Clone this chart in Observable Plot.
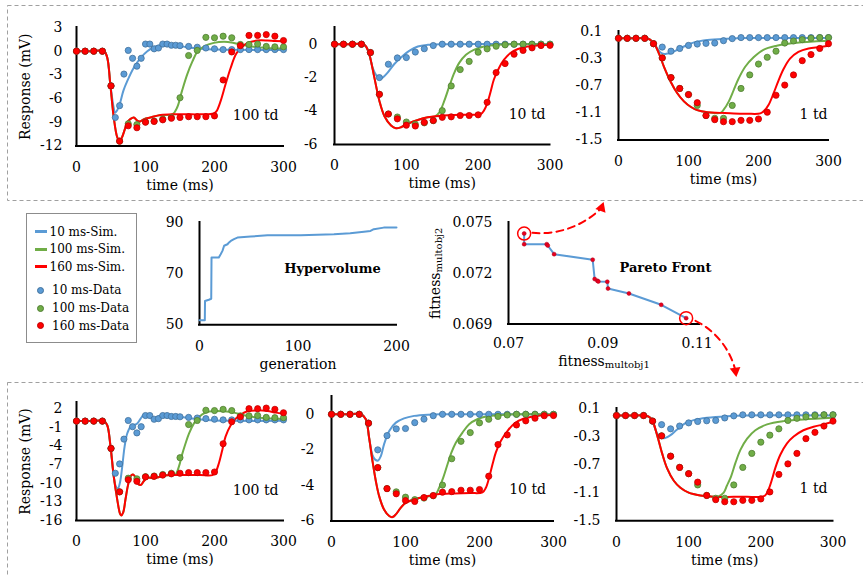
<!DOCTYPE html>
<html><head><meta charset="utf-8">
<script src="https://cdn.jsdelivr.net/npm/d3@7"></script>
<script src="https://cdn.jsdelivr.net/npm/@observablehq/plot@0.6"></script>
<style>
body{margin:0;background:#fff;}
#root{position:relative;width:863px;height:575px;overflow:hidden;font-family:"DejaVu Serif",serif;}
</style></head>
<body><div id="root"></div>
<script>
// ---------------- DATA ----------------
const timeTicks = [0, 100, 200, 300];
const tData = [0,12.5,25,37.5,50,62.5,75,87.5,100,112.5,125,137.5,150,162.5,175,187.5,200,212.5,225,237.5,250,262.5,275,287.5,300];
const tBlue100 = [0,12.5,25,37.5,50,56.25,62.5,68.75,75,81.25,87.5,93.75,100,106.25,112.5,118.75,125,131.25,137.5,143.75,150,162.5,175,187.5,200,212.5,225,237.5,250,262.5,275,287.5,300];

// measured data (same in both rows)
const blue100Data  = [0,0,0,0,-4.4,-8.4,-6.9,-2.9,0.1,-0.9,-1.9,-0.9,0.9,0.9,0.3,0.4,0.9,0.9,0.75,0.75,0.7,0.6,0.5,0.4,0.3,0.2,0.2,0.2,0.2,0.2,0.2,0.2,0.2];
const green100Data = [0,0,0,0,-4.4,-11.4,-9.2,-9.3,-8.95,-8.85,-8.6,-8.4,-5.9,-0.55,0.1,1.75,1.7,1.9,1.7,0.85,0.85,0.9,0.6,0.55,0.55];
const red100Data   = [0,0,0,0,-4.4,-11.4,-9.45,-9.7,-9.0,-8.9,-8.7,-8.5,-8.4,-8.3,-8.3,-8.3,-8.2,-3.65,-0.1,0.7,2.0,2.0,2.1,1.9,1.35];
const blue10Data   = [0,0,0,0,-0.5,-2.0,-1.2,-0.82,-0.8,-0.47,-0.27,-0.08,0,0,0,0,0,0,0,0,0,0,0,0,0];
const green10Data  = [0,0,0,0,-0.5,-3.0,-4.18,-4.36,-4.66,-4.8,-4.71,-4.58,-3.98,-2.5,-1.52,-1.03,-0.48,-0.28,-0.12,-0.04,0,0,0,0,0];
const red10Data    = [0,0,0,0,-0.5,-3.0,-4.18,-4.47,-4.85,-4.9,-4.68,-4.57,-4.38,-4.35,-4.27,-4.27,-4.23,-3.48,-1.7,-1.16,-0.6,-0.37,-0.22,-0.08,-0.07];
const blue1Data    = [0,0,0,0,-0.08,-0.13,-0.19,-0.15,-0.105,-0.085,-0.075,-0.07,-0.035,-0.005,0.01,0.01,0.01,0.01,0.01,0.01,0.01,0.01,0.01,0.01,0.01];
const green1Data   = [0,0,0,0,-0.08,-0.29,-0.58,-0.74,-0.83,-0.99,-1.14,-1.18,-1.18,-0.99,-0.74,-0.54,-0.38,-0.28,-0.19,-0.07,-0.04,-0.02,0,0.01,0.01];
const red1Data     = [0,0,0,0,-0.08,-0.29,-0.58,-0.74,-0.83,-0.95,-1.14,-1.2,-1.23,-1.23,-1.21,-1.21,-1.19,-1.09,-0.84,-0.69,-0.54,-0.33,-0.24,-0.15,-0.08];

// simulations, top row (first Pareto extreme)
const blueSim100a  = [[0,0],[20,0],[40,0],[44.5,-0.8],[49,-4.2],[54,-7.2],[56,-7.8],[59.5,-7.4],[63,-6.6],[68,-5.0],[73.5,-3.8],[83,-2.1],[93,-0.84],[102.6,0],[112,0.5],[122,0.75],[141,0.75],[160,0.5],[180,0.3],[204,0.2],[300,0.15]];
const greenSim100a = [[0,0],[20,0],[40,0],[44.5,-0.8],[49,-4.2],[54,-8.4],[59,-10.9],[62.4,-11.4],[66,-10.9],[70,-9.9],[73.5,-9.0],[78,-8.6],[83,-8.4],[88,-8.8],[92,-8.9],[98,-8.6],[107,-8.4],[122,-8.1],[139,-8.0],[146,-7.1],[153,-5.0],[160.6,-2.9],[168,-1.3],[175,-0.1],[185,0.6],[199,1.05],[214,1.2],[228,1.05],[243,0.75],[257,0.55],[277,0.4],[300,0.35]];
const redSim100a   = [[0,0],[20,0],[40,0],[44.5,-0.8],[49,-4.2],[54,-8.4],[59,-10.9],[62.4,-11.4],[66,-10.9],[70,-9.9],[73.5,-9.0],[78,-8.6],[83,-8.4],[88,-8.8],[92,-8.9],[98,-8.6],[107,-8.4],[122,-8.1],[141,-8.0],[160,-8.0],[180,-8.0],[199,-7.9],[203,-7.6],[209,-6.3],[216,-4.2],[223.5,-2.1],[231,-0.4],[238,0.4],[248,1.05],[262,1.35],[277,1.35],[288,1.28],[300,1.26]];
const blueSim10a   = [[0,0],[20,0],[40,0],[44,-0.14],[48.6,-0.63],[53,-1.4],[58,-1.85],[63,-2.05],[67,-2.0],[74,-1.7],[83,-1.2],[92.6,-0.8],[104,-0.4],[116,-0.14],[130,-0.04],[150,0],[300,0]];
const greenSim10a  = [[0,0],[20,0],[40,0],[44,-0.14],[48.6,-0.63],[55.5,-2.0],[62.5,-3.4],[69.4,-4.3],[78.7,-4.87],[85.6,-5.03],[92.6,-4.97],[101.8,-4.77],[116,-4.54],[130,-4.38],[140,-4.33],[146,-4.08],[152.8,-3.4],[160,-2.5],[166.7,-1.72],[173.6,-1.12],[183,-0.63],[194,-0.34],[208,-0.14],[227,-0.04],[250,0],[300,0]];
const redSim10a    = [[0,0],[20,0],[40,0],[44,-0.14],[48.6,-0.63],[55.5,-2.0],[62.5,-3.4],[69.4,-4.3],[78.7,-4.87],[85.6,-5.03],[92.6,-4.97],[101.8,-4.77],[116,-4.54],[130,-4.38],[148,-4.28],[166.7,-4.24],[185,-4.22],[203.7,-4.18],[208,-3.98],[213,-3.5],[217.6,-2.8],[222,-2.1],[229,-1.42],[236,-0.93],[245,-0.53],[254.6,-0.3],[268.5,-0.14],[282,-0.08],[300,-0.04]];
const blueSim1a    = [[0,0],[20,0],[40,0],[45,-0.02],[51,-0.08],[55.5,-0.15],[60,-0.21],[65,-0.23],[70,-0.225],[74.5,-0.22],[84,-0.17],[96,-0.11],[108,-0.06],[127,-0.025],[155,-0.007],[184,0.003],[300,0.005]];
const greenSim1a   = [[0,0],[20,0],[40,0],[45,-0.02],[51,-0.08],[58,-0.23],[65,-0.42],[74.5,-0.64],[84,-0.81],[93.5,-0.93],[103,-1.01],[112.5,-1.06],[127,-1.09],[145.7,-1.1],[150.5,-1.05],[157.6,-0.93],[164.7,-0.76],[171.8,-0.59],[181,-0.42],[193,-0.28],[207,-0.17],[226,-0.11],[250,-0.07],[278.6,-0.046],[300,-0.036]];
const redSim1a     = [[0,0],[20,0],[40,0],[45,-0.02],[51,-0.08],[58,-0.23],[65,-0.42],[74.5,-0.64],[84,-0.81],[93.5,-0.93],[103,-1.01],[112.5,-1.06],[127,-1.09],[145.7,-1.1],[164.7,-1.11],[183.7,-1.113],[202.6,-1.108],[208,-1.07],[214.5,-0.98],[221.6,-0.81],[228.7,-0.62],[236,-0.45],[245,-0.3],[257,-0.2],[271.5,-0.15],[288,-0.13],[300,-0.11]];

// simulations, bottom row (second Pareto extreme)
const blueSim100b  = [[0,0],[20,0],[40,0],[44.5,-0.65],[49.3,-4.1],[54,-8.9],[56.6,-10.4],[60,-10.85],[63,-9.9],[66.3,-7.3],[69.7,-4.1],[73.5,-2.0],[78.4,-0.9],[83,-0.65],[88,-0.4],[93,0.4],[97.7,1.05],[102.6,1.05],[107.4,0.67],[112,0.4],[117,0.67],[122,0.94],[131.6,0.94],[151,0.67],[170,0.4],[194.5,0.15],[228,0.04],[300,0.04]];
const greenSim100b = [[0,0],[20,0],[40,0],[44.5,-0.65],[49.3,-4.1],[54,-8.9],[59,-12.6],[63,-14.9],[64.8,-15.2],[67.7,-14.7],[71,-12.6],[74.5,-10.4],[78.4,-8.85],[82,-8.6],[85.6,-9.1],[89,-10.05],[93,-10.3],[97.7,-9.65],[102.6,-9.1],[110,-9.2],[117,-9.1],[126.7,-8.75],[141,-8.7],[143.7,-8.6],[148.5,-7.3],[153,-5.4],[158,-3.6],[163,-2.0],[170,-0.4],[177.5,0.67],[187,1.37],[199,1.63],[214,1.58],[228,1.37],[243,0.94],[262,0.57],[281.6,0.41],[300,0.36]];
const redSim100b   = [[0,0],[20,0],[40,0],[44.5,-0.65],[49.3,-4.1],[54,-8.9],[59,-12.6],[63,-14.9],[64.8,-15.2],[67.7,-14.7],[71,-12.6],[74.5,-10.4],[78.4,-8.85],[82,-8.6],[85.6,-9.1],[89,-10.05],[93,-10.3],[97.7,-9.65],[102.6,-9.1],[110,-9.2],[117,-9.1],[126.7,-8.75],[141,-8.7],[160.6,-8.7],[180,-8.7],[197,-8.7],[201.7,-8.2],[206.6,-6.7],[211.4,-4.6],[216,-2.5],[223.5,-0.65],[230.8,0.4],[238,1.05],[247.7,1.58],[262,1.73],[276.7,1.63],[288.8,1.37],[300,1.2]];
const blueSim10b   = [[0,0],[20,0],[40,0],[46.4,-0.28],[50.8,-1.31],[55.4,-2.3],[59,-2.55],[63,-2.6],[66.7,-2.35],[71,-1.69],[78,-0.94],[87,-0.47],[98,-0.23],[111.7,-0.09],[130,-0.02],[150,0],[300,0]];
const greenSim10b  = [[0,0],[20,0],[40,0],[46.4,-0.28],[50.8,-1.31],[55.4,-2.63],[59.9,-3.75],[64.4,-4.6],[71,-5.35],[78,-5.72],[82.4,-5.78],[86.9,-5.63],[93.7,-5.25],[100.5,-4.97],[111.7,-4.78],[125,-4.65],[140,-4.52],[145.5,-4.13],[151,-3.56],[156.8,-2.81],[162,-2.16],[168,-1.6],[177,-1.03],[186,-0.56],[197,-0.28],[210.8,-0.11],[228.8,-0.04],[250,0],[300,0]];
const redSim10b    = [[0,0],[20,0],[40,0],[46.4,-0.28],[50.8,-1.31],[55.4,-2.63],[59.9,-3.75],[64.4,-4.6],[71,-5.35],[78,-5.72],[82.4,-5.78],[86.9,-5.63],[93.7,-5.25],[100.5,-4.97],[111.7,-4.78],[125,-4.65],[143,-4.5],[165.8,-4.45],[188,-4.43],[204,-4.39],[208.6,-4.13],[213,-3.56],[217.6,-2.81],[222,-2.16],[228.8,-1.5],[237.8,-0.94],[246.8,-0.53],[260,-0.24],[278,-0.09],[300,-0.04]];
const blueSim1b    = [[0,0],[20,0],[40,0],[45,-0.02],[49.4,-0.066],[56,-0.25],[61,-0.31],[65.5,-0.325],[70,-0.31],[74.8,-0.28],[84,-0.2],[95.5,-0.11],[107,-0.066],[125.5,-0.033],[153,-0.01],[181,0],[300,0]];
const greenSim1b   = [[0,0],[20,0],[40,0],[45,-0.02],[49.4,-0.066],[56.3,-0.28],[63.2,-0.54],[70,-0.75],[79.4,-0.93],[88.6,-1.03],[100,-1.1],[116,-1.14],[134.7,-1.16],[140,-1.16],[148.6,-1.1],[153,-1.0],[158.7,-0.87],[164.7,-0.68],[171.7,-0.49],[181,-0.33],[192.4,-0.21],[208.6,-0.127],[231.7,-0.08],[259,-0.056],[300,-0.033]];
const redSim1b     = [[0,0],[20,0],[40,0],[45,-0.02],[49.4,-0.066],[56.3,-0.28],[63.2,-0.54],[70,-0.75],[79.4,-0.93],[88.6,-1.03],[100,-1.1],[116,-1.14],[134.7,-1.16],[162.4,-1.16],[181,-1.16],[199,-1.16],[206,-1.14],[210.9,-1.05],[215.5,-0.91],[220,-0.75],[227,-0.56],[236,-0.4],[245.5,-0.3],[259,-0.21],[273,-0.16],[287,-0.127],[300,-0.09]];

// hypervolume vs generation
const hvGen = [0,5.4,5.6,9.5,11.9,12.2,19.6,21.5,23.3,25,28.4,30,31.8,35,38.5,52,69,102.7,136.5,153,167,173.6,177,187,200];
const hvVal = [51.8,51.8,59.3,59.8,60.2,76.3,76.3,77.6,78.9,80.9,81.5,82.2,82.8,83.5,84.1,84.5,85.0,85.0,85.4,85.8,86.4,86.7,87.4,88.0,88.0];

// Pareto front
const paretoF1 = [0.07332,0.07332,0.07811,0.07832,0.07967,0.08785,0.08827,0.08884,0.08905,0.09095,0.0911,0.09554,0.10238,0.10767];
const paretoF2 = [0.07435,0.07372,0.07372,0.07364,0.07313,0.0728,0.07166,0.07156,0.07152,0.0715,0.0711,0.07081,0.07014,0.06935];

// annotation arrows (from the two selected Pareto points towards the panel rows)
const arrowFrom = [[0.07509,0.07439],[0.10965,0.069195]];
const arrowTo   = [[0.08972,0.07586],[0.11813,0.06624]];
const arrowBend = [-25, 25];
const arrowHeadRotate = [20, 172];

const legendLabels = ["10 ms-Sim.","100 ms-Sim.","160 ms-Sim.","10 ms-Data","100 ms-Data","160 ms-Data"];

// ---------------- STYLE ----------------
const FONT = "'DejaVu Serif', serif";
const LINE = {blue:"#5B9BD5", green:"#70AD47", red:"#FF0000"};
const EDGE = {blue:"#41719C", green:"#507E32", red:"#C00000"};
const root = document.getElementById("root");
const NS = "http://www.w3.org/2000/svg";
const baseStyle = {background:"transparent", overflow:"visible", fontFamily:FONT, fontSize:"14px", color:"#000"};
const fmt = d => String(d);

function place(node, left, top, w, h) {
  const div = document.createElement("div");
  div.style.cssText = `position:absolute;left:${left}px;top:${top}px;width:${w}px;height:${h}px;`;
  div.append(node);
  root.append(div);
}
const toPts = pairs => pairs.map(([t, v]) => ({t, v}));
const zipPts = (ts, vs) => vs.map((v, i) => ({t: ts[i], v}));

// dashed group boxes
{
  const s = document.createElementNS(NS, "svg");
  s.setAttribute("width", 863); s.setAttribute("height", 575);
  s.style.cssText = "position:absolute;left:0;top:0;";
  for (const [y, h] of [[5.5, 195], [382.5, 210]]) {
    const r = document.createElementNS(NS, "rect");
    r.setAttribute("x", 7.5); r.setAttribute("y", y);
    r.setAttribute("width", 880); r.setAttribute("height", h);
    r.setAttribute("fill", "none"); r.setAttribute("stroke", "#A0A0A0");
    r.setAttribute("stroke-width", 1); r.setAttribute("stroke-dasharray", "4,3");
    s.append(r);
  }
  root.append(s);
}

// ---------------- RESPONSE PANELS ----------------
const panels = [
  {x0:76, x1:283, yTop:26.6, yBot:145, yDomain:[-12,3], yTicks:[-12,-9,-6,-3,0,3], pad:14, td:"100 td", tdDx:-5, tdDy:-26, yLabelDx:-50.5,
   sims:[blueSim100a, greenSim100a, redSim100a], data:[[tBlue100, blue100Data],[tData, green100Data],[tData, red100Data]]},
  {x0:333.5, x1:549, yTop:26.6, yBot:143.5, yDomain:[-6,1], yTicks:[-6,-4,-2,0], pad:17, td:"10 td", tdDx:-4.5, tdDy:-25.5,
   sims:[blueSim10a, greenSim10a, redSim10a], data:[[tData, blue10Data],[tData, green10Data],[tData, red10Data]]},
  {x0:618, x1:828, yTop:31, yBot:139.5, yDomain:[-1.5,0.1], yTicks:[-1.5,-1.1,-0.7,-0.3,0.1], pad:16, td:"1 td", tdDx:-1, tdDy:-21.5,
   sims:[blueSim1a, greenSim1a, redSim1a], data:[[tData, blue1Data],[tData, green1Data],[tData, red1Data]]},
  {x0:76, x1:283, yTop:402.1, yBot:520, yDomain:[-16,3], yTicks:[-16,-13,-10,-7,-4,-1,2], pad:14, td:"100 td", tdDx:-5, tdDy:-25, yLabelDx:-51,
   sims:[blueSim100b, greenSim100b, redSim100b], data:[[tBlue100, blue100Data],[tData, green100Data],[tData, red100Data]]},
  {x0:331, x1:553, yTop:395.5, yBot:520, yDomain:[-6,1], yTicks:[-6,-4,-2,0], pad:17, td:"10 td", tdDx:-7.5, tdDy:-27,
   sims:[blueSim10b, greenSim10b, redSim10b], data:[[tData, blue10Data],[tData, green10Data],[tData, red10Data]]},
  {x0:616, x1:832.5, yTop:408.3, yBot:520.5, yDomain:[-1.5,0.1], yTicks:[-1.5,-1.1,-0.7,-0.3,0.1], pad:16, td:"1 td", tdDx:-5.5, tdDy:-27.5,
   sims:[blueSim1b, greenSim1b, redSim1b], data:[[tData, blue1Data],[tData, green1Data],[tData, red1Data]]}
];

const series = ["blue", "green", "red"];
for (const g of panels) {
  const mL = 70, mR = 20, mT = 12, mB = 58;
  const w = mL + (g.x1 - g.x0) + mR, h = mT + (g.yBot - g.yTop) + mB;
  const marks = [
    Plot.ruleX([0], {stroke:"#000", strokeWidth:2, strokeLinecap:"square"}),
    Plot.ruleY([g.yDomain[0]], {stroke:"#000", strokeWidth:2, strokeLinecap:"square"})
  ];
  g.sims.forEach((s, i) => marks.push(Plot.line(toPts(s), {x:"t", y:"v", stroke:LINE[series[i]], strokeWidth:2, curve:"catmull-rom"})));
  g.data.forEach(([ts, vs], i) => marks.push(Plot.dot(zipPts(ts, vs), {x:"t", y:"v", r:3.1, fill:LINE[series[i]], stroke:EDGE[series[i]], strokeWidth:0.8})));
  marks.push(Plot.text([g.td], {frameAnchor:"bottom-right", textAnchor:"end", dx:g.tdDx, dy:g.tdDy, fontSize:14}));
  marks.push(Plot.text(["time (ms)"], {frameAnchor:"bottom", textAnchor:"middle", dy:44, fontSize:14}));
  if (g.yLabelDx !== undefined) marks.push(Plot.text(["Response (mV)"], {frameAnchor:"left", textAnchor:"middle", rotate:-90, dx:g.yLabelDx, fontSize:14}));
  const svg = Plot.plot({
    width:w, height:h, marginLeft:mL, marginRight:mR, marginTop:mT, marginBottom:mB, style:baseStyle,
    x:{domain:[0,300], ticks:timeTicks, tickSize:0, tickPadding:16, tickFormat:fmt, label:null},
    y:{domain:g.yDomain, ticks:g.yTicks, tickSize:0, tickPadding:g.pad, tickFormat:fmt, label:null},
    marks
  });
  place(svg, g.x0 - mL, g.yTop - mT, w, h);
}

// ---------------- HYPERVOLUME ----------------
{
  const x0 = 199, x1 = 396, yTop = 222, yBot = 324.3, mL = 60, mR = 20, mT = 10, mB = 58;
  const w = mL + (x1 - x0) + mR, h = mT + (yBot - yTop) + mB;
  const svg = Plot.plot({
    width:w, height:h, marginLeft:mL, marginRight:mR, marginTop:mT, marginBottom:mB, style:baseStyle,
    x:{domain:[0,200], ticks:[0,100,200], tickSize:0, tickPadding:16, tickFormat:fmt, label:null},
    y:{domain:[50,90], ticks:[50,70,90], tickSize:0, tickPadding:16, tickFormat:fmt, label:null},
    marks:[
      Plot.ruleX([0], {stroke:"#000", strokeWidth:2, strokeLinecap:"square"}),
      Plot.ruleY([50], {stroke:"#000", strokeWidth:2, strokeLinecap:"square"}),
      Plot.line(zipPts(hvGen, hvVal), {x:"t", y:"v", stroke:LINE.blue, strokeWidth:2}),
      Plot.text(["Hypervolume"], {frameAnchor:"middle", textAnchor:"middle", dx:34.5, dy:-5, fontSize:13, fontWeight:"bold"}),
      Plot.text(["generation"], {frameAnchor:"bottom", textAnchor:"middle", dy:44, fontSize:14})
    ]
  });
  place(svg, x0 - mL, yTop - mT, w, h);
}

// ---------------- PARETO FRONT ----------------
{
  const x0 = 508, x1 = 699, yTop = 221.7, yBot = 323.3, mL = 95, mR = 50, mT = 25, mB = 62;
  const w = mL + (x1 - x0) + mR, h = mT + (yBot - yTop) + mB;
  const pts = paretoF1.map((f1, i) => ({f1, f2: paretoF2[i]}));
  const ends = [pts[0], pts[pts.length - 1]];
  const arrows = arrowFrom.map((a, i) => ({x1:a[0], y1:a[1], x2:arrowTo[i][0], y2:arrowTo[i][1], rot:arrowHeadRotate[i]}));
  const svg = Plot.plot({
    width:w, height:h, marginLeft:mL, marginRight:mR, marginTop:mT, marginBottom:mB, style:baseStyle,
    x:{domain:[0.07,0.1105], ticks:[0.07,0.09,0.11], tickSize:0, tickPadding:14, tickFormat:fmt, label:null},
    y:{domain:[0.069,0.075], ticks:[0.069,0.072,0.075], tickSize:0, tickPadding:16, tickFormat:fmt, label:null},
    marks:[
      Plot.ruleX([0.07], {stroke:"#000", strokeWidth:2, strokeLinecap:"square"}),
      Plot.ruleY([0.069], {stroke:"#000", strokeWidth:2, strokeLinecap:"square"}),
      Plot.line(pts, {x:"f1", y:"f2", stroke:LINE.blue, strokeWidth:2}),
      Plot.dot(pts, {x:"f1", y:"f2", r:2, fill:"#E8001C", stroke:"#B00020", strokeWidth:0.5}),
      Plot.dot(ends, {x:"f1", y:"f2", r:6.5, fill:"none", stroke:LINE.red, strokeWidth:1.5}),
      Plot.arrow([arrows[0]], {x1:"x1", y1:"y1", x2:"x2", y2:"y2", bend:arrowBend[0], headLength:0, stroke:LINE.red, strokeWidth:2, strokeDasharray:"7,5"}),
      Plot.arrow([arrows[1]], {x1:"x1", y1:"y1", x2:"x2", y2:"y2", bend:arrowBend[1], headLength:0, stroke:LINE.red, strokeWidth:2, strokeDasharray:"7,5"}),
      Plot.dot(arrows, {x:"x2", y:"y2", symbol:"triangle", r:4, rotate:"rot", fill:LINE.red, stroke:"none"}),
      Plot.text(["Pareto Front"], {frameAnchor:"middle", textAnchor:"middle", dx:61.5, dy:-5.5, fontSize:13, fontWeight:"bold"}),
      Plot.text(["fitnessmultobj1"], {frameAnchor:"bottom", textAnchor:"middle", dy:42, fontSize:14}),
      Plot.text(["fitnessmultobj2"], {frameAnchor:"left", textAnchor:"middle", rotate:-90, dx:-73, fontSize:14})
    ]
  });
  svg.querySelectorAll("text").forEach(t => {
    const m = /^fitness(multobj\d)$/.exec(t.textContent);
    if (!m) return;
    t.textContent = "";
    const a = document.createElementNS(NS, "tspan"); a.textContent = "fitness";
    const b = document.createElementNS(NS, "tspan"); b.textContent = m[1];
    b.setAttribute("font-size", "10"); b.setAttribute("dy", "2");
    t.append(a, b);
  });
  place(svg, x0 - mL, yTop - mT, w, h);
}

// ---------------- LEGEND ----------------
{
  const box = document.createElement("div");
  box.style.cssText = "position:absolute;left:26px;top:213px;width:111px;height:130px;box-sizing:border-box;border:1px solid #8C8C8C;background:#fff;font-family:'DejaVu Serif',serif;font-size:12px;color:#000;";
  const rowY = [17.5, 35, 52.5, 76, 94, 111.5];
  legendLabels.forEach((lab, i) => {
    const col = series[i % 3];
    const sw = document.createElement("div");
    if (i < 3) sw.style.cssText = `position:absolute;left:8px;top:${rowY[i] - 1.5}px;width:12px;height:3px;background:${LINE[col]};`;
    else sw.style.cssText = `position:absolute;left:9.5px;top:${rowY[i] - 3.5}px;width:7px;height:7px;border-radius:50%;box-sizing:border-box;background:${LINE[col]};border:0.8px solid ${EDGE[col]};`;
    const tx = document.createElement("div");
    tx.textContent = lab;
    tx.style.cssText = `position:absolute;left:${i < 3 ? 22.5 : 25}px;top:${rowY[i] - 8}px;line-height:16px;white-space:nowrap;`;
    box.append(sw, tx);
  });
  root.append(box);
}
</script>
</body></html>
